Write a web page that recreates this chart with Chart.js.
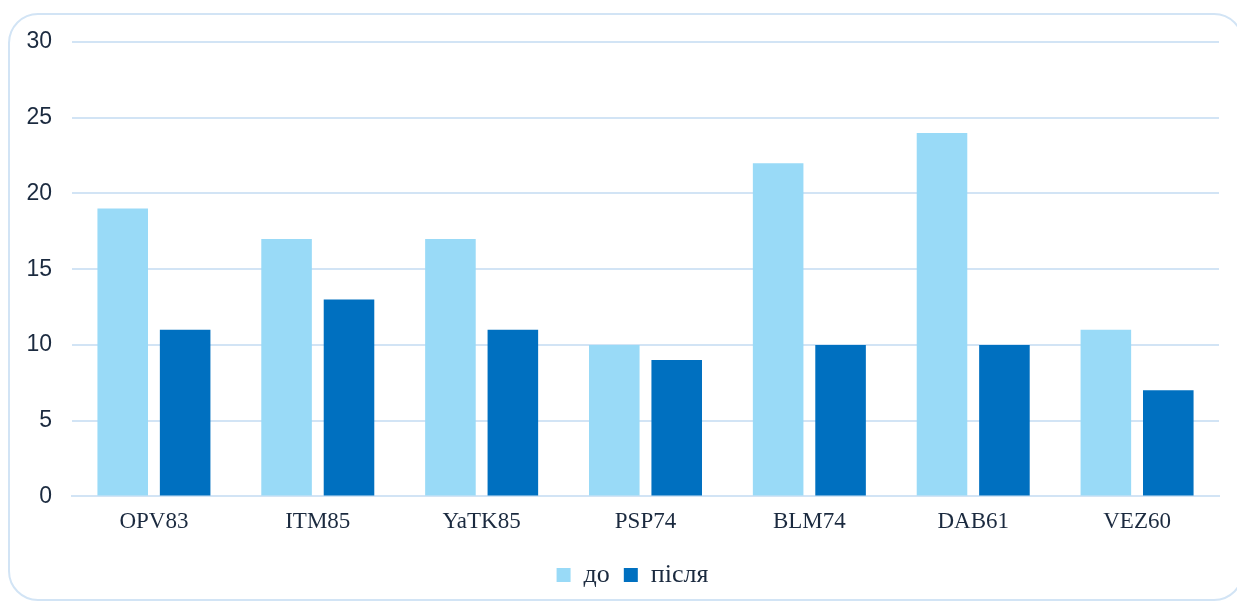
<!DOCTYPE html>
<html>
<head>
<meta charset="utf-8">
<script src="https://cdn.jsdelivr.net/npm/chart.js@4"></script>
<style>
    html, body { margin: 0; padding: 0; background: #ffffff; overflow: hidden; }
    #frame {
        position: absolute; left: 8px; top: 13px; width: 1236px; height: 588px;
        border: 2px solid #d2e4f5; border-radius: 30px; box-sizing: border-box;
    }
    #wrap { position: absolute; left: 0; top: 0; width: 1237px; height: 605px; }
</style>
</head>
<body>
<div id="frame"></div>
<div id="wrap"><canvas id="chart"></canvas></div>
<script>
const categories = ['OPV83', 'ITM85', 'YaTK85', 'PSP74', 'BLM74', 'DAB61', 'VEZ60'];
const beforeValues = [19, 17, 17, 10, 22, 24, 11];
const afterValues = [11, 13, 11, 9, 10, 10, 7];
const seriesNames = ['до', 'після'];

// nudge the bottom legend a bit to the right, like in the original
const legendShift = {
    id: 'legendShift',
    afterLayout(chart) {
        if (chart.legend) {
            chart.legend.left += 23;
            chart.legend.right += 23;
        }
    }
};

document.addEventListener('DOMContentLoaded', function () {
    const ctx = document.getElementById('chart');
    const textColor = '#1b2a3f';
    const gridColor = '#d2e4f5';

    new Chart(ctx.getContext('2d'), {
        type: 'bar',
        data: {
            labels: categories,
            datasets: [
                {
                    label: seriesNames[0],
                    data: beforeValues,
                    backgroundColor: '#99daf7'
                },
                {
                    label: seriesNames[1],
                    data: afterValues,
                    backgroundColor: '#0070c0'
                }
            ]
        },
        options: {
            responsive: true,
            maintainAspectRatio: false,
            animation: false,
            categoryPercentage: 0.762,
            barPercentage: 0.81,
            layout: {
                padding: { left: 0, right: 18, top: 42, bottom: 7 }
            },
            scales: {
                x: {
                    grid: { display: false, drawTicks: false },
                    border: { color: gridColor, width: 2 },
                    ticks: {
                        color: textColor,
                        padding: 12,
                        font: { family: 'Liberation Serif', size: 23 }
                    }
                },
                y: {
                    min: 0,
                    max: 30,
                    ticks: {
                        stepSize: 5,
                        color: textColor,
                        padding: 20,
                        font: { family: 'Liberation Sans', size: 23 }
                    },
                    grid: { color: gridColor, lineWidth: 2, drawTicks: false },
                    border: { display: false },
                    afterFit: function (scale) { scale.width = 72; }
                }
            },
            plugins: {
                legend: {
                    position: 'bottom',
                    labels: {
                        color: textColor,
                        boxWidth: 14,
                        boxHeight: 14,
                        padding: 14,
                        font: { family: 'Liberation Serif', size: 26 }
                    }
                },
                tooltip: { enabled: false }
            }
        },
        plugins: [legendShift]
    });
});
</script>
</body>
</html>
